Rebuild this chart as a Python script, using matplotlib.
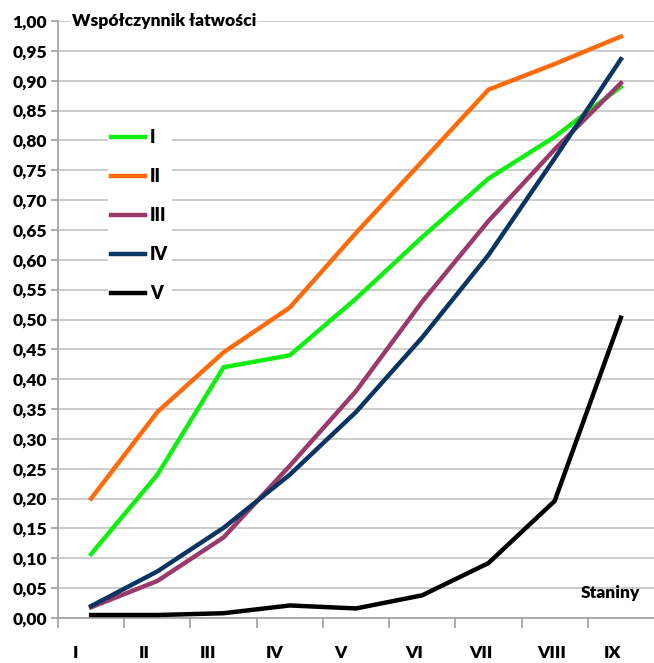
import numpy as np
import matplotlib.pyplot as plt
from matplotlib.ticker import FuncFormatter, MultipleLocator

plt.rcParams['font.family'] = ['Lato', 'DejaVu Sans']

# stanines and difficulty index per group
staniny = ['I', 'II', 'III', 'IV', 'V', 'VI', 'VII', 'VIII', 'IX']
grupa_I = [0.107, 0.240, 0.420, 0.440, 0.535, 0.638, 0.736, 0.806, 0.890]
grupa_II = [0.200, 0.345, 0.445, 0.520, 0.645, 0.765, 0.885, 0.928, 0.974]
grupa_III = [0.018, 0.062, 0.135, 0.255, 0.380, 0.530, 0.665, 0.785, 0.896]
grupa_IV = [0.020, 0.078, 0.151, 0.240, 0.345, 0.470, 0.608, 0.770, 0.936]
grupa_V = [0.005, 0.005, 0.008, 0.021, 0.016, 0.038, 0.092, 0.196, 0.503]

series = [
    ('I', grupa_I, '#11ee11'),
    ('II', grupa_II, '#ff6a0a'),
    ('III', grupa_III, '#9a3a6a'),
    ('IV', grupa_IV, '#0a3563'),
    ('V', grupa_V, '#000000'),
]

# horizontal nudge of the category labels (in category units)
label_shift = [-0.24, -0.20, -0.24, -0.23, -0.23, -0.12, -0.11, -0.05, -0.12]
W = 'heavy'

fig = plt.figure(figsize=(6.54, 6.63), dpi=100)
ax = fig.add_axes([58 / 654, 45 / 663, 1 - 58 / 654, (618 - 21) / 663])

x = np.arange(len(staniny))
for name, vals, col in series:
    ax.plot(x, vals, color=col, lw=3.2, solid_joinstyle='miter', label=name, zorder=3)

ax.set_xlim(-0.5, len(staniny) - 0.5)
ax.set_ylim(0, 1.0)
ax.yaxis.set_major_locator(MultipleLocator(0.05))
ax.yaxis.set_major_formatter(FuncFormatter(lambda v, p: f'{v:.2f}'.replace('.', ',')))
ax.grid(axis='y', color='#c4c4c4', lw=1.2)
ax.set_axisbelow(True)

for s in ['top', 'right']:
    ax.spines[s].set_visible(False)
for s in ['left', 'bottom']:
    ax.spines[s].set_color('#a0a0a0')
    ax.spines[s].set_linewidth(1.2)

ax.set_xticks(np.arange(-0.5, len(staniny) - 1, 1.0))
ax.set_xticklabels([])
ax.tick_params(axis='x', length=7, color='#a0a0a0', width=1.2)
ax.tick_params(axis='y', length=5, color='#a0a0a0', width=1.2, labelsize=12.5, pad=3)
for lab in ax.get_yticklabels():
    lab.set_fontweight(W)

for i, (name, dx) in enumerate(zip(staniny, label_shift)):
    ax.text(i + dx, -0.058, name, ha='center', va='center', fontsize=12.5,
            fontweight=W, transform=ax.transData, clip_on=False)

ax.text(0.023, 1.0, 'Współczynnik łatwości', transform=ax.transAxes, ha='left',
        va='center', fontsize=12.5, fontweight=W,
        bbox=dict(facecolor='white', edgecolor='none', pad=1))
ax.text(0.977, 0.042, 'Staniny', transform=ax.transAxes, ha='right', va='center',
        fontsize=12.5, fontweight=W)

leg = ax.legend(loc='upper left', bbox_to_anchor=(0.068, 0.84), frameon=True,
                fancybox=False, edgecolor='none', framealpha=1, fontsize=13,
                handlelength=1.85, handletextpad=0.3, labelspacing=1.22,
                borderpad=0.2)
for t in leg.get_texts():
    t.set_fontweight(W)

fig.savefig('out.png', dpi=100, facecolor='white')
